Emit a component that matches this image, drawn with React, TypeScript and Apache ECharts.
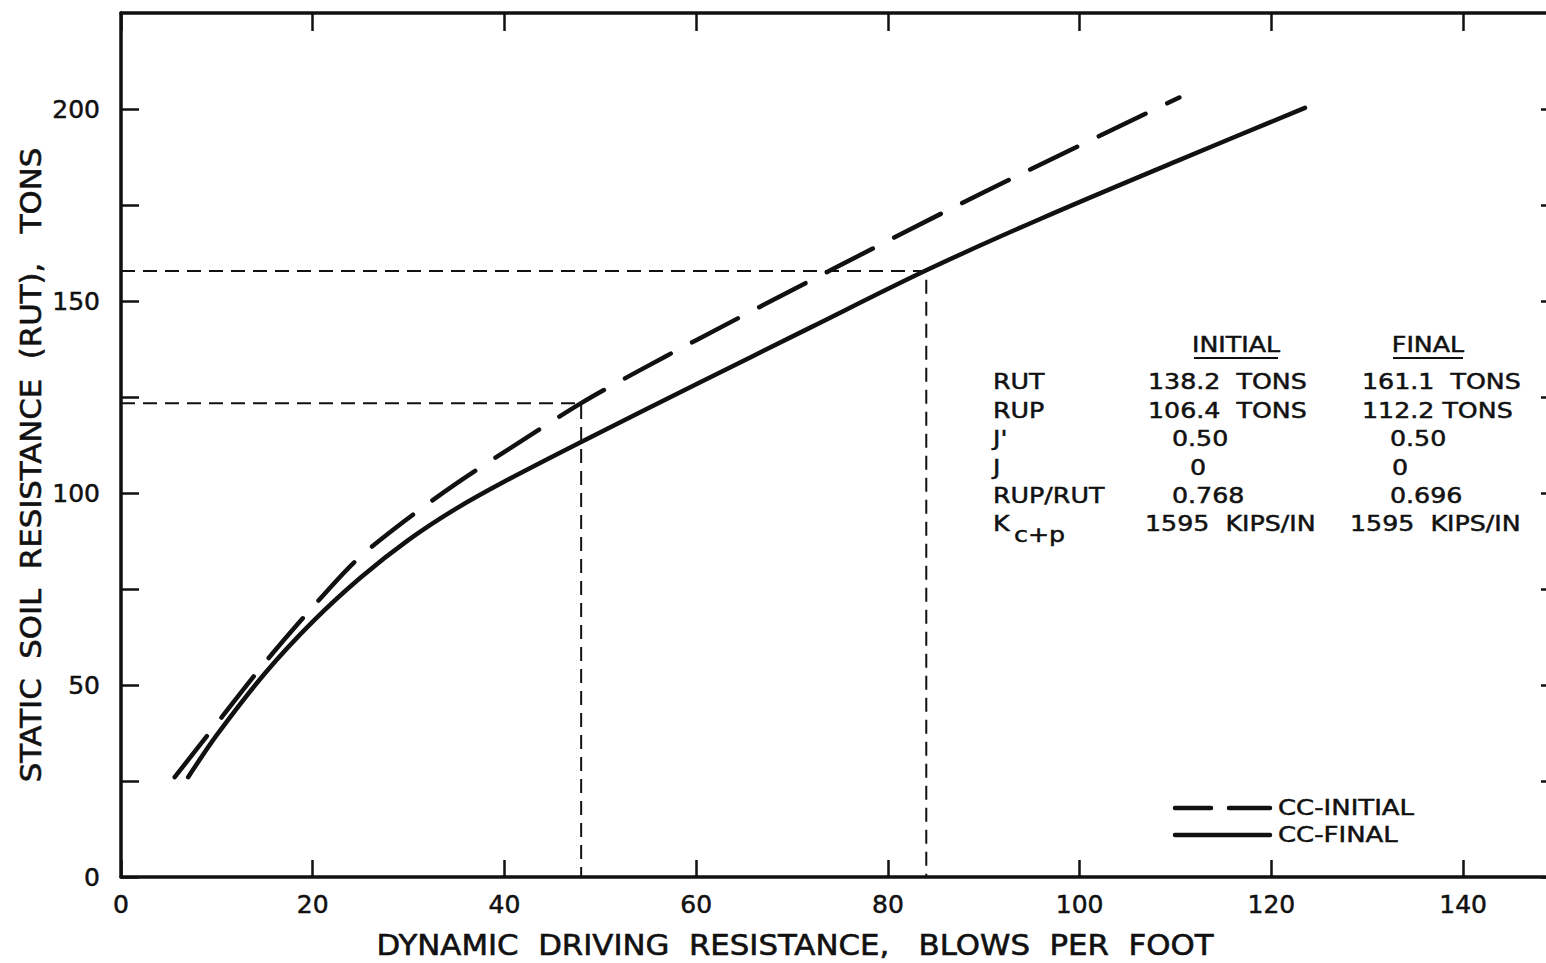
import React, { useEffect, useRef } from "react";
import * as echarts from "echarts";

// ---- data ----
const finalX = [7, 10, 15, 20, 25, 30, 35, 40, 48, 60, 72, 84, 96, 110, 123.5];
const finalY = [26, 37, 53, 66.5, 78, 87.8, 96, 103, 113.3, 128.3, 143.2, 158, 171.5, 186.3, 200.3];
const initialX = [5.6, 10, 15, 20, 24.6, 30, 35, 40, 48, 54, 60, 74, 90, 110.4];
const initialY = [26, 40, 55.8, 70.3, 82.6, 93.5, 102.5, 110.7, 123.4, 131.8, 139.8, 158, 178.3, 203];
const refInitial = { x: 48, y: 123.4 };
const refFinal = { x: 84, y: 157.8 };
const xTickValues = [0, 20, 40, 60, 80, 100, 120, 140];
const yTickValues = [0, 25, 50, 75, 100, 125, 150, 175, 200];
const yLabelValues = [0, 50, 100, 150, 200];
const xTitle = "DYNAMIC  DRIVING  RESISTANCE,   BLOWS  PER  FOOT";
const yTitle = "STATIC  SOIL  RESISTANCE  (RUT),   TONS";
const tableHeaders = ["INITIAL", "FINAL"];
const tableLabels = ["RUT", "RUP", "J'", "J", "RUP/RUT", "K"];
const initialValues = ["138.2  TONS", "106.4  TONS", "0.50", "0", "0.768", "1595  KIPS/IN"];
const finalValues = ["161.1  TONS", "112.2 TONS", "0.50", "0", "0.696", "1595  KIPS/IN"];
const legendNames = ["CC-INITIAL", "CC-FINAL"];

// ---- layout ----
const FONT = "DejaVu Sans";
const INK = "#111";
const rowY0 = 382;
const rowStep = 28.4;
const labelX = 993;
const initialColX = [1148, 1148, 1172, 1190, 1172, 1145];
const finalColX = [1362, 1362, 1390, 1392, 1390, 1350];
const TABLE_SCALE = 1.15;
const BOLD = { textBorderColor: INK, textBorderWidth: 0.5 };

export default function App() {
  const ref = useRef<HTMLDivElement>(null);
  useEffect(() => {
    if (!ref.current) return;
    const chart = echarts.init(ref.current, undefined, { renderer: "svg" });
    const pairs = (xs: number[], ys: number[]) => xs.map((x, i) => [x, ys[i]]);
    const axisLine = { show: true, onZero: false, lineStyle: { color: INK, width: 3.5 } };
    const tickStyle = { color: INK, width: 2.5 };
    const labelStyle = { color: INK, fontSize: 25, fontFamily: FONT, ...BOLD };
    const txt = (text: string, x: number, y: number, extra: any = {}) => ({
      type: "text", x, y, scaleX: TABLE_SCALE,
      style: { text, fill: INK, fontSize: 22, fontFamily: FONT, align: "left", verticalAlign: "middle", stroke: INK, lineWidth: 0.5 },
      ...extra,
    });

    const graphic: any[] = [];
    // axis titles
    graphic.push({
      type: "text", x: 795, y: 945, scaleX: 1.1,
      style: { text: xTitle, fill: INK, fontSize: 28, fontFamily: FONT, align: "center", verticalAlign: "middle", stroke: INK, lineWidth: 0.6 },
    });
    graphic.push({
      type: "text", x: 31, y: 465, scaleX: 1.1, rotation: Math.PI / 2,
      style: { text: yTitle, fill: INK, fontSize: 28, fontFamily: FONT, align: "center", verticalAlign: "middle", stroke: INK, lineWidth: 0.6 },
    });
    // table headers
    const headerX = [1236, 1428];
    const headerW = [84, 70];
    tableHeaders.forEach((h, i) => {
      graphic.push({
        type: "text", x: headerX[i], y: 345, scaleX: TABLE_SCALE,
        style: { text: h, fill: INK, fontSize: 22, fontFamily: FONT, align: "center", verticalAlign: "middle", stroke: INK, lineWidth: 0.5 },
      });
      graphic.push({
        type: "line",
        shape: { x1: headerX[i] - headerW[i] / 2, y1: 358, x2: headerX[i] + headerW[i] / 2, y2: 358 },
        style: { stroke: INK, lineWidth: 2 },
      });
    });
    tableLabels.forEach((lab, i) => {
      const y = rowY0 + i * rowStep;
      graphic.push(txt(lab, labelX, y));
      if (lab === "K") graphic.push(txt("c+p", labelX + 21, y + 11));
      graphic.push(txt(initialValues[i], initialColX[i], y));
      graphic.push(txt(finalValues[i], finalColX[i], y));
    });
    // legend
    graphic.push({ type: "line", shape: { x1: 1175, y1: 808, x2: 1211, y2: 808 }, style: { stroke: INK, lineWidth: 4.5, lineCap: "round" } });
    graphic.push({ type: "line", shape: { x1: 1229, y1: 808, x2: 1270, y2: 808 }, style: { stroke: INK, lineWidth: 4.5, lineCap: "round" } });
    graphic.push({ type: "line", shape: { x1: 1175, y1: 835, x2: 1270, y2: 835 }, style: { stroke: INK, lineWidth: 4.5, lineCap: "round" } });
    legendNames.forEach((n, i) => graphic.push(txt(n, 1278, 808 + i * 27, { scaleX: 1.18 })));

    chart.setOption({
      animation: false,
      backgroundColor: "#fff",
      grid: { left: 121, top: 13, right: -13, bottom: 86, containLabel: false, outerBoundsMode: "none" },
      xAxis: [
        {
          type: "value", position: "bottom", min: 0, max: 150,
          axisLine, splitLine: { show: false },
          axisTick: { show: true, inside: true, length: 17, lineStyle: tickStyle, customValues: xTickValues },
          axisLabel: { ...labelStyle, margin: 15, customValues: xTickValues },
        },
        {
          type: "value", position: "top", min: 0, max: 150,
          axisLine, splitLine: { show: false },
          axisTick: { show: true, inside: true, length: 18, lineStyle: tickStyle, customValues: xTickValues },
          axisLabel: { show: false },
        },
      ],
      yAxis: [
        {
          type: "value", position: "left", min: 0, max: 225,
          axisLine, splitLine: { show: false },
          axisTick: { show: true, inside: true, length: 18, lineStyle: tickStyle, customValues: yTickValues },
          axisLabel: { ...labelStyle, margin: 21, customValues: yLabelValues },
        },
        {
          type: "value", position: "right", min: 0, max: 225,
          axisLine, splitLine: { show: false },
          axisTick: { show: true, inside: true, length: 18, lineStyle: tickStyle, customValues: yTickValues },
          axisLabel: { show: false },
        },
      ],
      series: [
        {
          name: "CC-INITIAL", type: "line", data: pairs(initialX, initialY), smooth: 0.3,
          showSymbol: false, lineStyle: { color: INK, width: 4.5, type: [52, 24], cap: "round" },
        },
        {
          name: "CC-FINAL", type: "line", data: pairs(finalX, finalY), smooth: 0.3,
          showSymbol: false, lineStyle: { color: INK, width: 4.5, cap: "round" },
        },
        {
          name: "ref-initial", type: "line",
          data: [[0, refInitial.y], [refInitial.x, refInitial.y], [refInitial.x, 0]],
          showSymbol: false, lineStyle: { color: INK, width: 2, type: [14, 8] },
        },
        {
          name: "ref-final", type: "line",
          data: [[0, refFinal.y], [refFinal.x, refFinal.y], [refFinal.x, 0]],
          showSymbol: false, lineStyle: { color: INK, width: 2, type: [14, 8] },
        },
      ],
      graphic,
    });
    return () => chart.dispose();
  }, []);
  return <div ref={ref} style={{ position: "absolute", left: 0, top: 0, width: 1546, height: 963 }} />;
}
